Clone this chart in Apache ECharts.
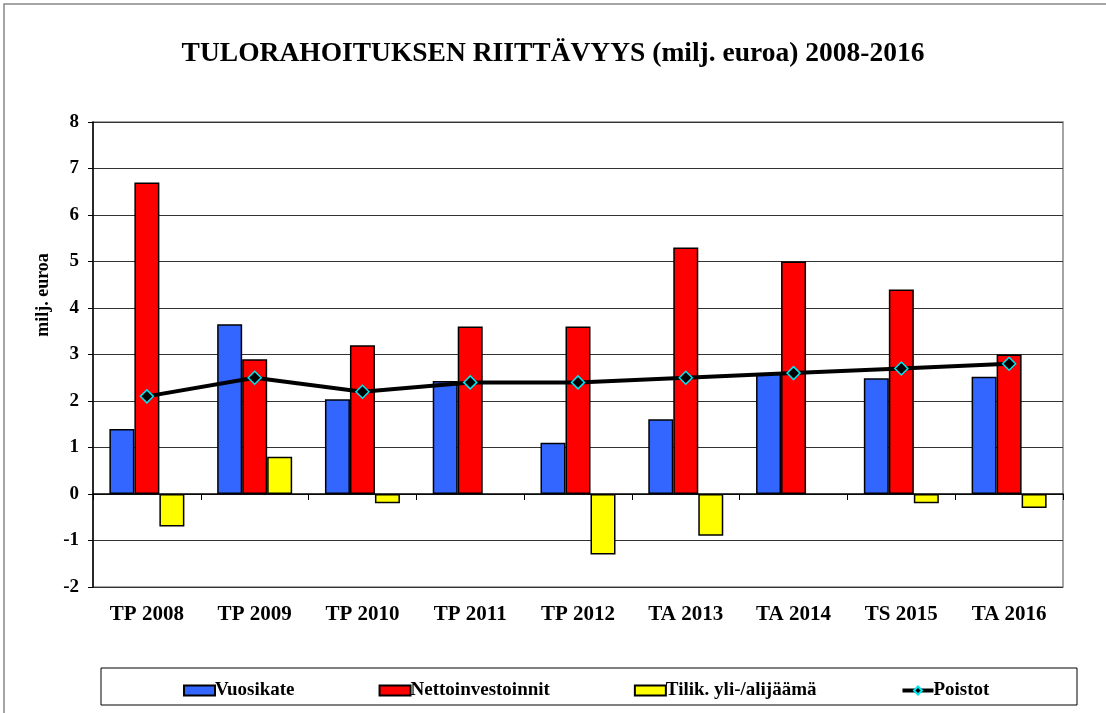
<!DOCTYPE html>
<html>
<head>
<meta charset="utf-8">
<script src="https://cdn.jsdelivr.net/npm/echarts@6/dist/echarts.min.js"></script>
<style>
  html, body { margin: 0; padding: 0; background: #fff; }
  #chart { width: 1106px; height: 713px; }
</style>
</head>
<body>
<div id="chart"></div>
<script>
var years = ['TP 2008', 'TP 2009', 'TP 2010', 'TP 2011', 'TP 2012', 'TA 2013', 'TA 2014', 'TS 2015', 'TA 2016'];
var vuosikate = [1.4, 3.65, 2.04, 2.43, 1.1, 1.61, 2.6, 2.49, 2.52];
var nettoinvestoinnit = [6.7, 2.9, 3.2, 3.6, 3.6, 5.3, 5.0, 4.4, 3.0];
var tilik = [-0.7, 0.8, -0.2, 0, -1.3, -0.9, 0, -0.2, -0.3];
var poistot = [2.1, 2.5, 2.2, 2.4, 2.4, 2.5, 2.6, 2.7, 2.8];
var yTicks = [-2, -1, 0, 1, 2, 3, 4, 5, 6, 7, 8];

var serif = '"Liberation Serif", "DejaVu Serif", serif';
var chart = echarts.init(document.getElementById('chart'));

var barStyle = function (c) {
  return { color: c, borderColor: '#000', borderWidth: 1.5 };
};

// zero-height bars draw nothing in the original
var withoutZeroBorder = function (arr) {
  return arr.map(function (v) {
    return v === 0 ? { value: v, itemStyle: { borderWidth: 0 } } : v;
  });
};

chart.setOption({
  animation: false,
  title: {
    text: 'TULORAHOITUKSEN RIITTÄVYYS (milj. euroa) 2008-2016',
    left: 'center',
    top: 35,
    textStyle: { fontFamily: serif, fontWeight: 'bold', fontSize: 27.5, color: '#000' }
  },
  graphic: [
    { type: 'rect', shape: { x: 4, y: 4, width: 1120, height: 730 }, style: { fill: 'none', stroke: '#888', lineWidth: 1.5 } },
    { type: 'rect', shape: { x: 101, y: 668, width: 976, height: 37 }, style: { fill: '#fff', stroke: '#000', lineWidth: 1 }, z: -1 },
    { type: 'text', x: 43, y: 295, rotation: Math.PI / 2,
      style: { text: 'milj. euroa', fontFamily: serif, fontWeight: 'bold', fontSize: 18, fill: '#000', align: 'center', verticalAlign: 'middle' } }
  ],
  legend: {
    top: 676,
    left: 178,
    itemGap: 84,
    itemWidth: 31,
    itemHeight: 10,
    textStyle: { fontFamily: serif, fontWeight: 'bold', fontSize: 19, color: '#000', padding: [0, 0, 0, -5] },
    data: [
      { name: 'Vuosikate', icon: 'rect' },
      { name: 'Nettoinvestoinnit', icon: 'rect' },
      { name: 'Tilik. yli-/alijäämä', icon: 'rect' },
      { name: 'Poistot', lineStyle: { width: 4 } }
    ]
  },
  grid: {
    left: 93, right: 43, top: 122, bottom: 126,
    show: true, borderColor: '#888', borderWidth: 1.5
  },
  xAxis: [
    {
      type: 'category',
      data: years,
      position: 'bottom',
      axisLine: { onZero: true, lineStyle: { color: '#000', width: 1.5 } },
      axisTick: { show: true, length: 6, lineStyle: { color: '#000' } },
      axisLabel: { show: false }
    },
    {
      type: 'category',
      data: years,
      position: 'bottom',
      axisLine: { show: false, onZero: false },
      axisTick: { show: false },
      axisLabel: { margin: 17, fontFamily: serif, fontWeight: 'bold', fontSize: 21, color: '#000' }
    }
  ],
  yAxis: {
    type: 'value',
    min: yTicks[0],
    max: yTicks[yTicks.length - 1],
    interval: 1,
    axisLine: { show: true, lineStyle: { color: '#000', width: 1.5 } },
    axisTick: { show: true, length: 5, lineStyle: { color: '#000' } },
    axisLabel: { margin: 14, fontFamily: serif, fontWeight: 'bold', fontSize: 19, color: '#000' },
    splitLine: { lineStyle: { color: '#333', width: 1.2 } }
  },
  series: [
    { name: 'Vuosikate', type: 'bar', data: vuosikate, barWidth: 25, barGap: '0%', itemStyle: barStyle('#3366ff') },
    { name: 'Nettoinvestoinnit', type: 'bar', data: nettoinvestoinnit, barWidth: 25, barGap: '0%', itemStyle: barStyle('#ff0000') },
    { name: 'Tilik. yli-/alijäämä', type: 'bar', data: withoutZeroBorder(tilik), barWidth: 25, barGap: '0%', itemStyle: barStyle('#ffff00') },
    {
      name: 'Poistot', type: 'line', data: poistot, z: 5,
      symbol: 'diamond', symbolSize: 13,
      lineStyle: { color: '#000', width: 4 },
      itemStyle: { color: '#000', borderColor: '#00e5ee', borderWidth: 1.5 }
    }
  ]
});
</script>
</body>
</html>
